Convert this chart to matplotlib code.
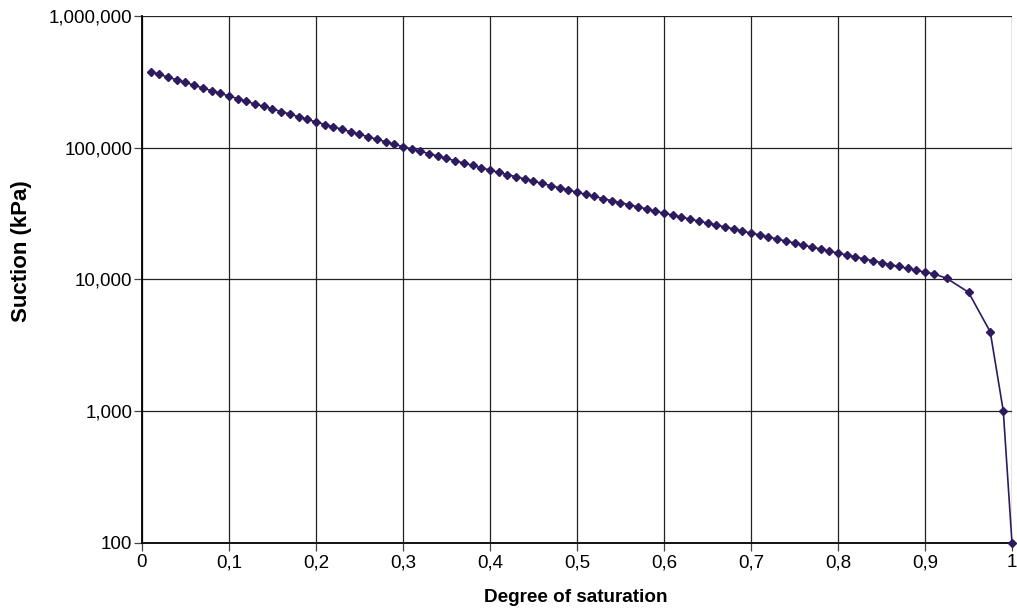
import matplotlib
matplotlib.use("Agg")
import matplotlib.pyplot as plt
from matplotlib.ticker import FixedLocator, NullLocator

plt.rcParams['font.family'] = ['Liberation Sans', 'DejaVu Sans']

# Degree of saturation (x) and suction in kPa (y)
saturation = [0.01, 0.02, 0.03, 0.04, 0.05, 0.06, 0.07, 0.08, 0.09, 0.10,
              0.11, 0.12, 0.13, 0.14, 0.15, 0.16, 0.17, 0.18, 0.19, 0.20,
              0.21, 0.22, 0.23, 0.24, 0.25, 0.26, 0.27, 0.28, 0.29, 0.30,
              0.31, 0.32, 0.33, 0.34, 0.35, 0.36, 0.37, 0.38, 0.39, 0.40,
              0.41, 0.42, 0.43, 0.44, 0.45, 0.46, 0.47, 0.48, 0.49, 0.50,
              0.51, 0.52, 0.53, 0.54, 0.55, 0.56, 0.57, 0.58, 0.59, 0.60,
              0.61, 0.62, 0.63, 0.64, 0.65, 0.66, 0.67, 0.68, 0.69, 0.70,
              0.71, 0.72, 0.73, 0.74, 0.75, 0.76, 0.77, 0.78, 0.79, 0.80,
              0.81, 0.82, 0.83, 0.84, 0.85, 0.86, 0.87, 0.88, 0.89, 0.90,
              0.91, 0.925, 0.95, 0.975, 0.99, 1.0]
suction = [378000, 360000, 344000, 327000, 313000, 298000, 284000, 271000, 259000, 247000,
           236000, 225000, 215000, 206000, 197000, 188000, 180000, 172000, 164000, 157000,
           150000, 144000, 138000, 132000, 126500, 121000, 116000, 111000, 106000, 102000,
           97700, 93800, 90200, 86500, 83000, 79600, 76400, 73500, 70500, 67600,
           65000, 62500, 60300, 57900, 55700, 53600, 51500, 49700, 47800, 45900,
           44300, 42700, 41100, 39600, 38300, 36900, 35600, 34300, 33000, 31800,
           30800, 29700, 28700, 27700, 26800, 25900, 25000, 24200, 23300, 22500,
           21770, 21010, 20280, 19580, 18900, 18250, 17620, 17010, 16420, 15850,
           15330, 14830, 14340, 13870, 13410, 12970, 12550, 12130, 11740, 11350,
           11050, 10200, 8000, 4000, 1000, 100]

x_ticks = [0, 0.1, 0.2, 0.3, 0.4, 0.5, 0.6, 0.7, 0.8, 0.9, 1.0]
x_tick_labels = ['0', '0,1', '0,2', '0,3', '0,4', '0,5', '0,6', '0,7', '0,8', '0,9', '1']
y_ticks = [100, 1000, 10000, 100000, 1000000]
y_tick_labels = ['100', '1,000', '10,000', '100,000', '1,000,000']

fig = plt.figure(figsize=(10.17, 6.15), dpi=100)
ax = fig.add_axes([0.1396, 0.1171, 0.8555, 0.8569])

ax.plot(saturation, suction, color='#2e1a5e', linewidth=1.2, marker='D',
        markersize=4.5, clip_on=False, zorder=3)

ax.set_yscale('log')
ax.set_xlim(0, 1)
ax.set_ylim(100, 1000000)

ax.xaxis.set_major_locator(FixedLocator(x_ticks))
ax.set_xticklabels(x_tick_labels)
ax.yaxis.set_major_locator(FixedLocator(y_ticks))
ax.yaxis.set_minor_locator(NullLocator())
ax.set_yticklabels(y_tick_labels)

ax.grid(True, color='#222222', linewidth=0.9)
ax.set_axisbelow(True)
for side in ['top', 'right']:
    ax.spines[side].set_visible(False)
for side in ['left', 'bottom']:
    ax.spines[side].set_linewidth(1.3)
    ax.spines[side].set_color('black')

ax.tick_params(axis='both', labelsize=13.5, length=6, width=0.9, color='#444444')
ax.tick_params(axis='x', pad=2)
ax.tick_params(axis='y', pad=1)

# axis titles placed in figure pixels (label centre a bit above the axes middle)
fig.text(576 / 1017, 1 - 597 / 615, 'Degree of saturation', fontsize=13.6,
         fontweight='bold', ha='center', va='center')
fig.text(22 / 1017, 1 - 251 / 615, 'Suction (kPa)', fontsize=16, fontweight='bold',
         rotation=90, ha='center', va='center')

fig.savefig('out.png', dpi=100)
